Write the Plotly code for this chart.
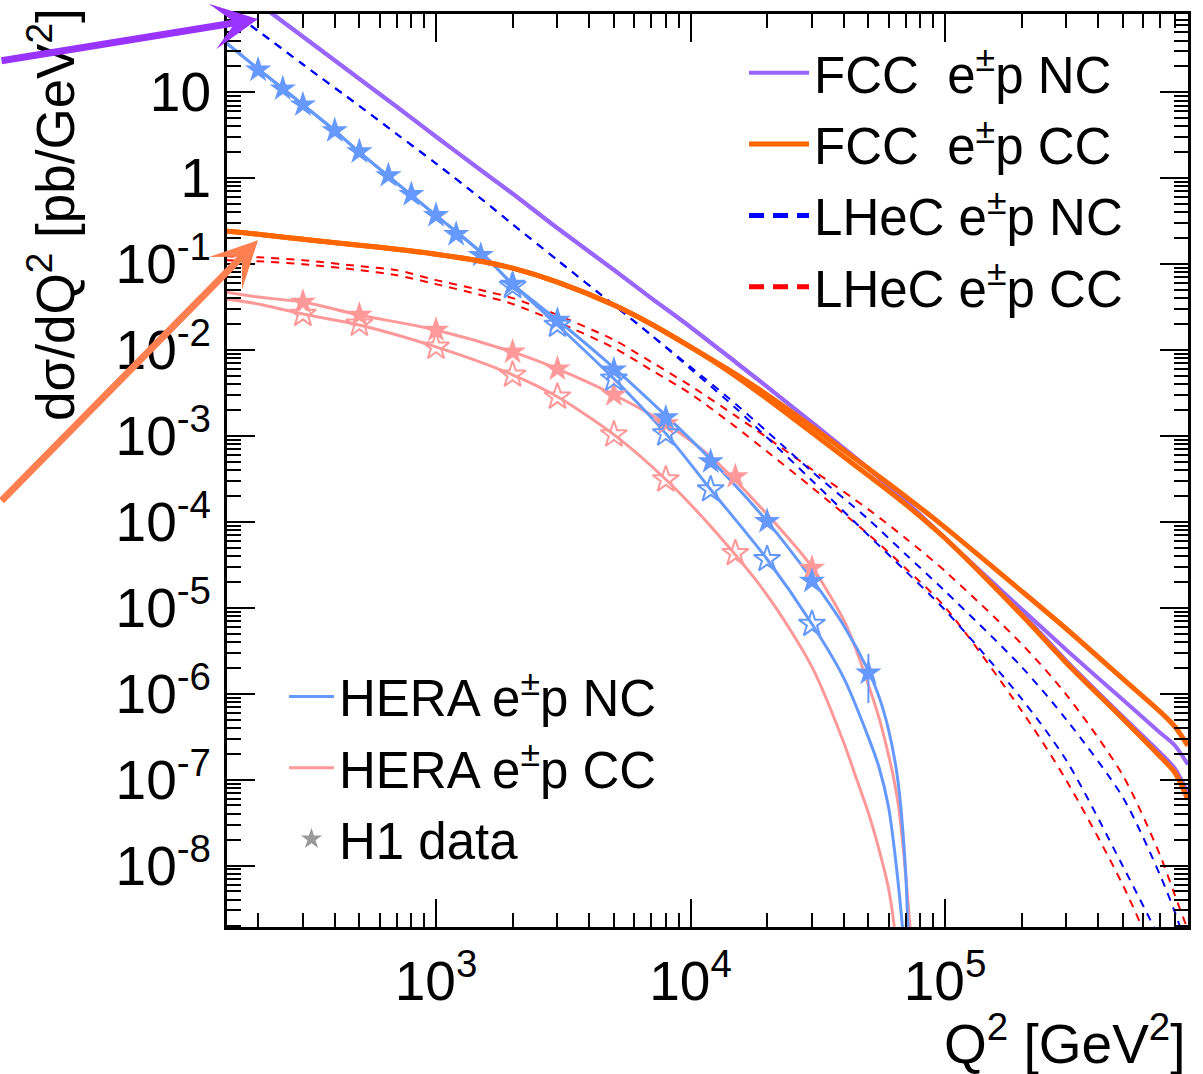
import plotly.graph_objects as go

FONT = "Liberation Sans, Arial, Helvetica, sans-serif"

# ---------------- data ----------------
# Q^2 grid used for FCC and LHeC curves [GeV^2]
q2_grid = [150, 200, 300, 500, 700, 1000, 1500, 2000, 3000, 5000, 7000, 1e4, 1.5e4, 2e4,
           3e4, 5e4, 7e4, 1e5, 2e5, 3e5, 5e5, 7e5, 8e5, 9e5]

fcc_nc_em = [210, 109, 44.4, 14.3, 6.79, 3.05, 1.24, 0.66, 0.262, 0.0855, 0.0403, 0.0185,
             0.00728, 0.003733, 0.001427, 4.17e-4, 1.729e-4, 6.44e-5,
             9.66e-6, 3.23e-6, 8.5e-7, 3.52e-7, 2.49e-7, 1.497e-7]
fcc_nc_ep = [210, 109, 44.4, 14.3, 6.79, 3.05, 1.24, 0.66, 0.262, 0.0855, 0.0403, 0.0185,
             0.00728, 0.003733, 0.001427, 4.17e-4, 1.729e-4, 6.44e-5,
             8.68e-6, 2.41e-6, 5.4e-7, 2.06e-7, 1.345e-7, 6.9e-8]
fcc_cc_em = [0.2408, 0.2223, 0.1944, 0.1657, 0.1489, 0.1302, 0.108, 0.0896, 0.0617, 0.0334,
             0.0201, 0.01086, 0.00528, 0.003013, 0.001282, 4.17e-4, 1.976e-4, 8.63e-5,
             1.562e-5, 5.66e-6, 1.489e-6, 6.17e-7, 4.13e-7, 2.49e-7]
fcc_cc_ep = [0.2408, 0.2223, 0.1944, 0.1657, 0.1489, 0.1302, 0.108, 0.0896, 0.0617, 0.0334,
             0.0201, 0.01086, 0.005006, 0.002708, 0.001092, 3.46e-4, 1.596e-4, 6.44e-5,
             8.23e-6, 2.28e-6, 5.11e-7, 1.853e-7, 1.209e-7, 5.88e-8]

lhec_nc_em = [95.6, 51.7, 21.1, 6.92, 3.27, 1.481, 0.581, 0.2903, 0.111, 0.0334, 0.01497, 0.00637,
              0.002369, 0.001122, 3.85e-4, 1.069e-4, 4.2e-5, 1.562e-5,
              2.05e-6, 4.98e-7, 6.2e-8, 7.72e-9, 2.87e-9, 1.04e-9]
lhec_nc_ep = [95.6, 51.7, 21.1, 6.92, 3.27, 1.481, 0.581, 0.2903, 0.111, 0.0334, 0.01497, 0.00603,
              0.00213, 9.56e-4, 3.03e-4, 6.97e-5, 2.67e-5, 9.4e-6,
              8.73e-7, 1.665e-7, 9.81e-9, 1.36e-9, 5.34e-10, 2e-10]
lhec_cc_em = [0.1235, 0.1202, 0.111, 0.0945, 0.085, 0.065, 0.0498, 0.0402, 0.02554, 0.0131,
              0.00728, 0.003834, 0.00172, 9.56e-4, 4.07e-4, 1.396e-4, 6.44e-5, 2.67e-5,
              3.79e-6, 9.71e-7, 1.116e-7, 1.317e-8, 4.52e-9, 1.776e-9]
lhec_cc_ep = [0.111, 0.108, 0.0997, 0.085, 0.0743, 0.0584, 0.0436, 0.0343, 0.0212, 0.01058,
              0.00587, 0.003095, 0.001282, 6.57e-4, 2.513e-4, 7.16e-5, 2.89e-5, 1.019e-5,
              6.33e-7, 9.76e-8, 5.91e-9, 6.1e-10, 2e-10, 5e-11]

# HERA curves
q2_hera_nc = [150, 200, 300, 400, 500, 1000, 1500, 2000, 3000, 5000, 8000, 1.2e4, 2e4, 3e4,
              4e4, 5e4, 5.5e4, 6e4, 6.5e4, 7e4, 7.2e4]
hera_nc_em = [37.5, 18.73, 7.16, 3.58, 2.01, 0.369, 0.1374, 0.0584, 0.02235, 0.0062, 0.00172,
              5.31e-4, 1.013e-4, 2.15e-5, 6.2e-6, 1.84e-6, 9.3e-7, 3.8e-7, 1.08e-7, 8.6e-9, 7.6e-10]
hera_nc_ep = [37.5, 18.73, 7.16, 3.58, 2.01, 0.369, 0.1374, 0.0584, 0.01955, 0.00462, 0.001063,
              2.38e-4, 3.67e-5, 6.47e-6, 1.529e-6, 3.1e-7, 1.4e-7, 4.8e-8, 7.6e-9, 7e-10, 2e-10]

q2_hera_cc = [150, 200, 300, 500, 1000, 2000, 3000, 5000, 8000, 1.2e4, 2e4, 3e4, 4e4, 4.5e4,
              5e4, 5.5e4, 6e4, 6.3e4, 6.6e4, 7e4, 7.5e4]
hera_cc_em = [0.0472, 0.0413, 0.0361, 0.02554, 0.0171, 0.0095, 0.00603, 0.003013, 0.001389,
              5.75e-4, 1.222e-4, 2.97e-5, 7.2e-6, 3.1e-6, 1.27e-6, 5.3e-7, 1.93e-7, 1.0e-7,
              4.4e-8, 8.0e-9, 6.4e-10]
hera_cc_ep = [0.0392, 0.0343, 0.02623, 0.01955, 0.01086, 0.00514, 0.002857, 0.001035, 3.11e-4,
              8.87e-5, 1.404e-5, 2.05e-6, 2.7e-7, 1.0e-7, 4.1e-8, 1.55e-8, 5.4e-9, 2.1e-9,
              5.6e-10, 1e-10, 2e-11]

# H1 data points
h1_nc_em_q2 = [200, 250, 300, 400, 500, 650, 800, 1000, 1200, 1500, 2000, 3000, 5000, 8000,
               12000, 20000, 30000, 50000]
h1_nc_em = [18.2, 10.98, 7.16, 3.58, 2.04, 1.075, 0.647, 0.369, 0.222, 0.1268, 0.0584, 0.02235,
            0.00587, 0.00163, 5.03e-4, 1.013e-4, 2.04e-5, 1.748e-6]
h1_nc_em_err_up = [0, 0, 0, 0, 0, 0, 0, 0, 0, 0, 0, 0, 0, 0, 0, 0, 0, 1.15e-6]
h1_nc_em_err_dn = [0, 0, 0, 0, 0, 0, 0, 0, 0, 0, 0, 0, 0, 0, 0, 0, 0, 0.97e-6]

h1_nc_ep_q2 = [2000, 3000, 5000, 8000, 12000, 20000, 30000]
h1_nc_ep = [0.0554, 0.01955, 0.00462, 0.001063, 2.38e-4, 3.67e-5, 6.47e-6]

h1_cc_em_q2 = [300, 500, 1000, 2000, 3000, 5000, 8000, 15000, 30000]
h1_cc_em = [0.0361, 0.02554, 0.0171, 0.0095, 0.00603, 0.003013, 0.001389, 3.37e-4, 2.89e-5]

h1_cc_ep_q2 = [300, 500, 1000, 2000, 3000, 5000, 8000, 15000]
h1_cc_ep = [0.02623, 0.0201, 0.01086, 0.00514, 0.002857, 0.001035, 3.11e-4, 4.31e-5]

# ticks
x_tick_vals = [1e3, 1e4, 1e5]
x_tick_text = ["10<sup>3</sup>", "10<sup>4</sup>", "10<sup>5</sup>"]
y_tick_vals = [1e-8, 1e-7, 1e-6, 1e-5, 1e-4, 1e-3, 1e-2, 1e-1, 1, 10]
y_tick_text = ["10<sup>-8</sup>", "10<sup>-7</sup>", "10<sup>-6</sup>", "10<sup>-5</sup>",
               "10<sup>-4</sup>", "10<sup>-3</sup>", "10<sup>-2</sup>", "10<sup>-1</sup>", "1", "10"]

# ---------------- styles ----------------
C_FCC_NC = "#9966FF"
C_FCC_CC = "#FF6600"
C_LHEC_NC = "#0000FF"
C_LHEC_CC = "#FF0000"
C_HERA_NC = "#6699FF"
C_HERA_CC = "#FF9999"
C_H1 = "#999999"
NBSP = "\u00a0"
STAR = 20

fig = go.Figure()


def add_line(x, y, color, width, dash, name, show, legend, rank):
    fig.add_trace(go.Scatter(
        x=x, y=y, mode="lines", name=name, showlegend=show, legend=legend,
        legendrank=rank, legendgroup=name,
        line=dict(color=color, width=width, dash=dash, shape="spline", smoothing=0.8),
        hoverinfo="skip"))


def add_legend_only(color, width, dash, name, legend, rank):
    fig.add_trace(go.Scatter(
        x=[None], y=[None], mode="lines", name=name, showlegend=True, legend=legend,
        legendrank=rank, legendgroup=name, line=dict(color=color, width=width, dash=dash),
        hoverinfo="skip"))


dash_pat = "8px,7px"
add_line(q2_grid, lhec_cc_em, C_LHEC_CC, 2, dash_pat, "LHeC e<sup>±</sup>p CC", False, "legend", 4)
add_line(q2_grid, lhec_cc_ep, C_LHEC_CC, 2, dash_pat, "LHeC e<sup>±</sup>p CC", False, "legend", 4)
add_line(q2_grid, lhec_nc_em, C_LHEC_NC, 2, dash_pat, "LHeC e<sup>±</sup>p NC", False, "legend", 3)
add_line(q2_grid, lhec_nc_ep, C_LHEC_NC, 2, dash_pat, "LHeC e<sup>±</sup>p NC", False, "legend", 3)
add_legend_only(C_LHEC_NC, 5, "15px,9px", "LHeC e<sup>±</sup>p NC", "legend", 3)
add_legend_only(C_LHEC_CC, 5, "15px,9px", "LHeC e<sup>±</sup>p CC", "legend", 4)

add_line(q2_hera_cc, hera_cc_em, C_HERA_CC, 3, "solid", "HERA e<sup>±</sup>p CC", True, "legend2", 2)
add_line(q2_hera_cc, hera_cc_ep, C_HERA_CC, 3, "solid", "HERA e<sup>±</sup>p CC", False, "legend2", 2)
add_line(q2_hera_nc, hera_nc_em, C_HERA_NC, 3, "solid", "HERA e<sup>±</sup>p NC", True, "legend2", 1)
add_line(q2_hera_nc, hera_nc_ep, C_HERA_NC, 3, "solid", "HERA e<sup>±</sup>p NC", False, "legend2", 1)

# H1 data
fig.add_trace(go.Scatter(x=h1_cc_ep_q2, y=h1_cc_ep, mode="markers", showlegend=False,
                         marker=dict(symbol="star-open", size=STAR, color=C_HERA_CC,
                                     line=dict(color=C_HERA_CC, width=2))))
fig.add_trace(go.Scatter(x=h1_cc_em_q2, y=h1_cc_em, mode="markers", showlegend=False,
                         marker=dict(symbol="star", size=STAR, color=C_HERA_CC,
                                     line=dict(width=0))))
fig.add_trace(go.Scatter(x=h1_nc_ep_q2, y=h1_nc_ep, mode="markers", showlegend=False,
                         marker=dict(symbol="star-open", size=STAR, color=C_HERA_NC,
                                     line=dict(color=C_HERA_NC, width=2))))
fig.add_trace(go.Scatter(x=h1_nc_em_q2, y=h1_nc_em, mode="markers", showlegend=False,
                         marker=dict(symbol="star", size=STAR, color=C_HERA_NC, line=dict(width=0)),
                         error_y=dict(type="data", array=h1_nc_em_err_up,
                                      arrayminus=h1_nc_em_err_dn, visible=True,
                                      color=C_HERA_NC, thickness=2, width=0)))
fig.add_trace(go.Scatter(x=[None], y=[None], mode="markers", name="H1 data",
                         legend="legend2", legendrank=3,
                         marker=dict(symbol="star", size=16, color=C_H1)))

add_line(q2_grid, fcc_nc_em, C_FCC_NC, 4, "solid", "FCC" + NBSP + NBSP + "e<sup>±</sup>p NC", True, "legend", 1)
add_line(q2_grid, fcc_nc_ep, C_FCC_NC, 4, "solid", "FCC" + NBSP + NBSP + "e<sup>±</sup>p NC", False, "legend", 1)
add_line(q2_grid, fcc_cc_em, C_FCC_CC, 5, "solid", "FCC" + NBSP + NBSP + "e<sup>±</sup>p CC", True, "legend", 2)
add_line(q2_grid, fcc_cc_ep, C_FCC_CC, 5, "solid", "FCC" + NBSP + NBSP + "e<sup>±</sup>p CC", False, "legend", 2)

axis_common = dict(
    type="log", ticks="inside", ticklen=28, tickwidth=2, tickcolor="black",
    showline=True, linewidth=3, linecolor="black", mirror="ticks",
    showgrid=False, zeroline=False, tickfont=dict(size=55, family=FONT, color="black"),
    minor=dict(ticks="inside", ticklen=14, tickwidth=2, tickcolor="black", dtick="D1",
               showgrid=False),
)

fig.update_xaxes(range=[2.1788, 5.9548], tickmode="array", tickvals=x_tick_vals,
                 ticktext=x_tick_text, ticklabelstandoff=4, **axis_common)
fig.update_yaxes(range=[-8.7158, 1.9107], tickmode="array", tickvals=y_tick_vals,
                 ticktext=y_tick_text, ticklabelstandoff=2, **axis_common)

legend_common = dict(font=dict(size=51, family=FONT, color="black"),
                     bgcolor="rgba(0,0,0,0)", borderwidth=0, xanchor="left", yanchor="top",
                     tracegroupgap=2)

fig.update_layout(
    width=1203, height=1074,
    margin=dict(l=227, r=15, t=11, b=147),
    paper_bgcolor="white", plot_bgcolor="white",
    font=dict(family=FONT, color="black"),
    legend=dict(x=0.538, y=0.979, itemwidth=60, **legend_common),
    legend2=dict(x=0.0593, y=0.296, itemwidth=45, **legend_common),
    annotations=[
        dict(text="dσ/dQ<sup>2</sup> [pb/GeV<sup>2</sup>]", textangle=-90,
             xref="paper", yref="paper", x=-0.182, y=0.780, xanchor="center", yanchor="middle",
             showarrow=False, font=dict(size=53, family=FONT, color="black")),
        dict(text="Q<sup>2</sup> [GeV<sup>2</sup>]", xref="paper", yref="paper",
             x=1.0, y=-0.124, xanchor="right", yanchor="middle", showarrow=False,
             font=dict(size=55, family=FONT, color="black")),
        dict(text="", xref="paper", yref="paper", x=0.0323, y=0.9945, ax=-258, ay=42,
             showarrow=True, arrowhead=3, arrowsize=1.1, arrowwidth=7, arrowcolor="#9933FF",
             standoff=0),
        dict(text="", xref="paper", yref="paper", x=0.0323, y=0.7522, ax=-258, ay=262,
             showarrow=True, arrowhead=3, arrowsize=1.1, arrowwidth=7, arrowcolor="#FF7F50",
             standoff=0),
    ],
)

fig.write_html("out.html")
